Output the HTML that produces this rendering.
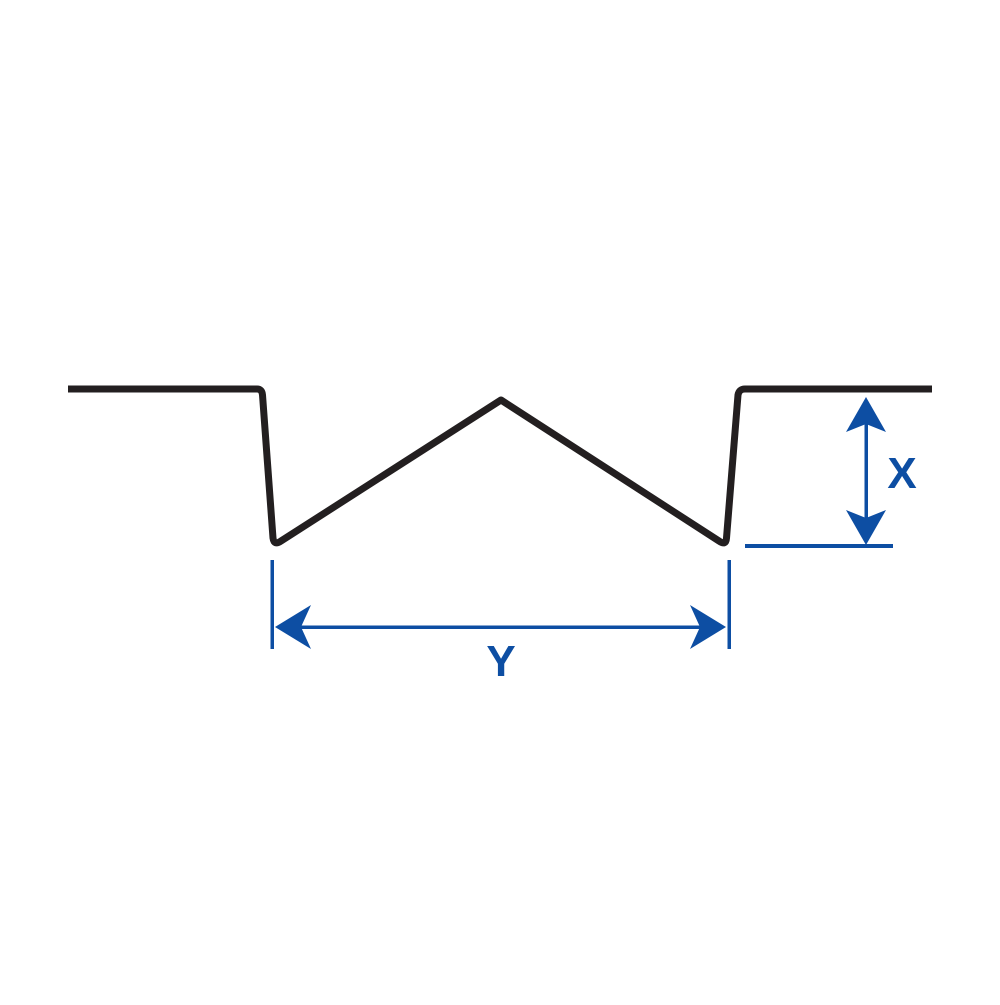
<!DOCTYPE html>
<html><head><style>body{margin:0;background:#fff}</style></head><body>
<svg width="1000" height="1000" viewBox="0 0 1000 1000" xmlns="http://www.w3.org/2000/svg">
<rect width="1000" height="1000" fill="#fff"/>
<path d="M68 389 L257 389 Q262 389 262.5 395 L273 538 Q274 546 281 541 L501 400 L719 541 Q726 546 726.5 538 L738 395 Q739 389 745 389 L932 389" fill="none" stroke="#231f20" stroke-width="7" stroke-linejoin="round"/>
<g fill="#0d4ea3" stroke="none">
<rect x="270.5" y="560" width="3.5" height="89"/>
<rect x="727.5" y="560" width="3.5" height="89"/>
<rect x="290" y="625.5" width="420" height="3.5"/>
<path d="M275 627 L311 605 L301 627 L311 649 Z"/>
<path d="M726 627 L690 605 L700 627 L690 649 Z"/>
<rect x="745" y="544" width="148" height="4"/>
<rect x="864.5" y="415" width="3.5" height="115"/>
<path d="M866 397 L846 432 L866 424 L886 432 Z"/>
<path d="M866 545 L846 510 L866 518 L886 510 Z"/>
</g>
<text x="902" y="488" font-family="Liberation Sans, sans-serif" font-weight="bold" font-size="44" fill="#0d4ea3" text-anchor="middle">X</text>
<text x="501" y="676" font-family="Liberation Sans, sans-serif" font-weight="bold" font-size="44" fill="#0d4ea3" text-anchor="middle">Y</text>
</svg>
</body></html>
